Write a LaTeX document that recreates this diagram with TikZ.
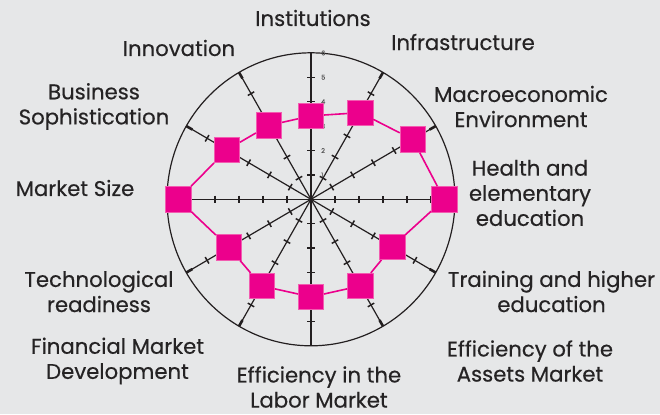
\documentclass[tikz,border=0pt]{standalone}
\usepackage{fontspec}
\setmainfont{Poppins}[FakeBold=0.4]
\definecolor{bgc}{HTML}{E6E7E8}
\definecolor{ink}{HTML}{231F20}
\definecolor{mag}{HTML}{EC008C}
\definecolor{magedge}{HTML}{F25CB0}
\definecolor{txt}{HTML}{252324}
\tikzset{
 axisline/.style={draw=ink, line width=1.2bp},
 tickmark/.style={draw=ink, line width=1.5bp},
 endmark/.style={draw=ink, line width=2.6bp},
 datapt/.style={rectangle, fill=mag, draw=magedge, line width=0.6bp, minimum size=25.5bp, inner sep=0pt},
 dataline/.style={draw=mag, line width=1.6bp},
 lbl/.style={text=txt, align=center, inner sep=0pt, font=\fontsize{21.3}{25.2}\selectfont},
 scalelbl/.style={text=black!65, font=\fontsize{6.5}{6.5}\selectfont, inner sep=0pt, anchor=west}
}
\begin{document}
\begin{tikzpicture}[x=1bp,y=-1bp]
\fill[bgc] (0,0) rectangle (660,414);
\useasboundingbox (0,0) rectangle (660,414);
\coordinate (O) at (311,199.3);
\draw[axisline] (O) ellipse [x radius=144, y radius=146.5];
\foreach \a in {0,30,...,330}{
  \coordinate (e\a) at ({311+144*cos(\a)},{199.3-146.5*sin(\a)});
  \coordinate (s\a) at ({311+137*cos(\a)},{199.3-139.5*sin(\a)});
  \draw[axisline] (O) -- (e\a);
  \draw[endmark] (s\a) -- (e\a);
  \foreach \k in {1,...,5}{
    \draw[tickmark] ({311+24*\k*cos(\a)+3.7*sin(\a)},{199.3-24.4*\k*sin(\a)+3.7*cos(\a)})
      -- ({311+24*\k*cos(\a)-3.7*sin(\a)},{199.3-24.4*\k*sin(\a)-3.7*cos(\a)});
  }
}
\foreach \k in {1,...,6}{
  \node[scalelbl] (n\k) at (321,{199.3-24.4*\k}) {\k};
}
% data points
\foreach \a/\v in {0/5.55,30/4.9,60/4.1,90/3.42,120/3.5,150/4.05,180/5.53,210/3.95,240/4.1,270/4.0,300/4.1,330/3.9}{
  \node[datapt] (p\a) at ({311+24*\v*cos(\a)},{199.3-24.4*\v*sin(\a)}) {};
}
\foreach \a/\b in {0/30,30/60,60/90,90/120,120/150,150/180,180/210,210/240,240/270,270/300,300/330,330/0}{
  \draw[dataline] (p\a) -- (p\b);
}
% labels
\node[lbl] (l1) at (313,18) {Institutions};
\node[lbl] (l2) at (463,42) {Infrastructure};
\node[lbl] (l3) at (521,106.5) {Macroeconomic\\Environment};
\node[lbl] (l4) at (530,193) {Health and\\elementary\\education};
\node[lbl] (l5) at (551.5,291.5) {Training and higher\\education};
\node[lbl] (l6) at (530,361) {Efficiency of the\\Assets Market};
\node[lbl] (l7) at (319,387) {Efficiency in the\\Labor Market};
\node[lbl] (l8) at (117.5,361) {Financial Market\\Development};
\node[lbl] (l9) at (99,291.5) {Technological\\readiness};
\node[lbl] (l10) at (75,188) {Market Size};
\node[lbl] (l11) at (94,106.5) {Business\\Sophistication};
\node[lbl] (l12) at (179,48) {Innovation};
\end{tikzpicture}
\end{document}
